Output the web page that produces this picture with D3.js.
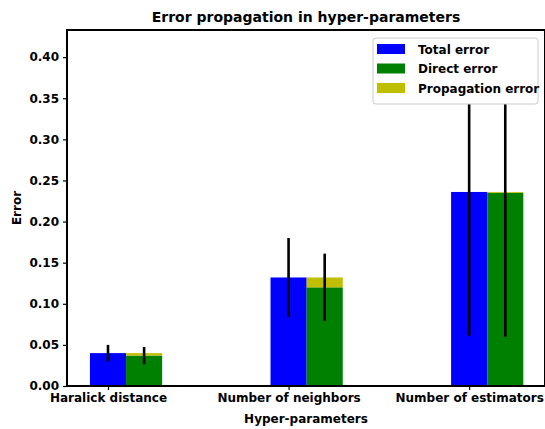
<!DOCTYPE html>
<html><head><meta charset="utf-8">
<script src="https://cdn.jsdelivr.net/npm/d3@7"></script>
<style>
body{margin:0;background:#fff;}
svg text{font-family:"DejaVu Sans",sans-serif;font-weight:bold;fill:#000;}
</style></head>
<body><svg id="c" width="545" height="429"></svg>
<script>
const categories = ["Haralick distance", "Number of neighbors", "Number of estimators"];
const totalError = [0.040, 0.132, 0.236];
const directError = [0.037, 0.120, 0.235];
const propagationError = [0.003, 0.012, 0.001];
const totalStd = [0.010, 0.048, 0.175];
const directStd = [0.0105, 0.041, 0.175];
const yTicks = [0.00, 0.05, 0.10, 0.15, 0.20, 0.25, 0.30, 0.35, 0.40];
const legendLabels = ["Total error", "Direct error", "Propagation error"];
const colors = ["#0000ff", "#008000", "#bfbf00"];

const svg = d3.select("#c");
const L = 67, R = 545, T = 30, B = 386;
const barW = 0.2;
const x = d3.scaleLinear().domain([-0.227, 2.42]).range([L, R]);
const y = d3.scaleLinear().domain([0, 0.433]).range([B, T]);

const g = svg.append("g");
categories.forEach((c, i) => {
  g.append("rect").attr("x", x(i - barW/2)).attr("width", x(barW) - x(0))
    .attr("y", y(totalError[i])).attr("height", y(0) - y(totalError[i])).attr("fill", colors[0]);
  g.append("rect").attr("x", x(i + barW/2)).attr("width", x(barW) - x(0))
    .attr("y", y(directError[i])).attr("height", y(0) - y(directError[i])).attr("fill", colors[1]);
  g.append("rect").attr("x", x(i + barW/2)).attr("width", x(barW) - x(0))
    .attr("y", y(directError[i] + propagationError[i]))
    .attr("height", y(directError[i]) - y(directError[i] + propagationError[i])).attr("fill", colors[2]);
});
const clipId = "clipPlot";
svg.append("clipPath").attr("id", clipId).append("rect").attr("x", L).attr("y", T).attr("width", R - L).attr("height", B - T);
const eg = svg.append("g").attr("clip-path", `url(#${clipId})`);
categories.forEach((c, i) => {
  eg.append("line").attr("x1", x(i)).attr("x2", x(i))
    .attr("y1", y(totalError[i] - totalStd[i])).attr("y2", y(totalError[i] + totalStd[i]))
    .attr("stroke", "#000").attr("stroke-width", 2.6);
  eg.append("line").attr("x1", x(i + barW)).attr("x2", x(i + barW))
    .attr("y1", y(directError[i] - directStd[i])).attr("y2", y(directError[i] + directStd[i]))
    .attr("stroke", "#000").attr("stroke-width", 2.6);
});

const yAxis = d3.axisLeft(y).tickValues(yTicks).tickFormat(d3.format(".2f")).tickSizeOuter(0).tickSize(4).tickPadding(4);
const ya = svg.append("g").attr("transform", `translate(${L},0)`).call(yAxis);
ya.select(".domain").remove();
ya.selectAll("text").style("font-size", "12px");
ya.selectAll("line").attr("stroke-width", 1.2);

const xAxis = d3.axisBottom(x).tickValues([0, 1, 2]).tickFormat((d) => categories[d]).tickSizeOuter(0).tickSize(4).tickPadding(3);
const xa = svg.append("g").attr("transform", `translate(0,${B})`).call(xAxis);
xa.select(".domain").remove();
xa.selectAll("text").style("font-size", "12px");
xa.selectAll("line").attr("stroke-width", 1.2);

svg.append("rect").attr("x", L).attr("y", T).attr("width", R - L).attr("height", B - T)
  .attr("fill", "none").attr("stroke", "#000").attr("stroke-width", 2);

svg.append("text").attr("x", (L + R) / 2).attr("y", 22).attr("text-anchor", "middle")
  .style("font-size", "14px").text("Error propagation in hyper-parameters");
svg.append("text").attr("x", (L + R) / 2).attr("y", 423).attr("text-anchor", "middle")
  .style("font-size", "12px").text("Hyper-parameters");
svg.append("text").attr("transform", `translate(21,${(T + B) / 2}) rotate(-90)`).attr("text-anchor", "middle")
  .style("font-size", "12px").text("Error");

const lg = svg.append("g");
lg.append("rect").attr("x", 373).attr("y", 38).attr("width", 165).attr("height", 66).attr("rx", 3)
  .attr("fill", "#fff").attr("stroke", "#ccc").attr("stroke-width", 1);
legendLabels.forEach((lab, i) => {
  const cy = 49 + i * 19.5;
  lg.append("rect").attr("x", 377).attr("y", cy - 5).attr("width", 28).attr("height", 10).attr("fill", colors[i]);
  lg.append("text").attr("x", 418).attr("y", cy + 4.5).style("font-size", "12px").text(lab);
});
</script></body></html>
